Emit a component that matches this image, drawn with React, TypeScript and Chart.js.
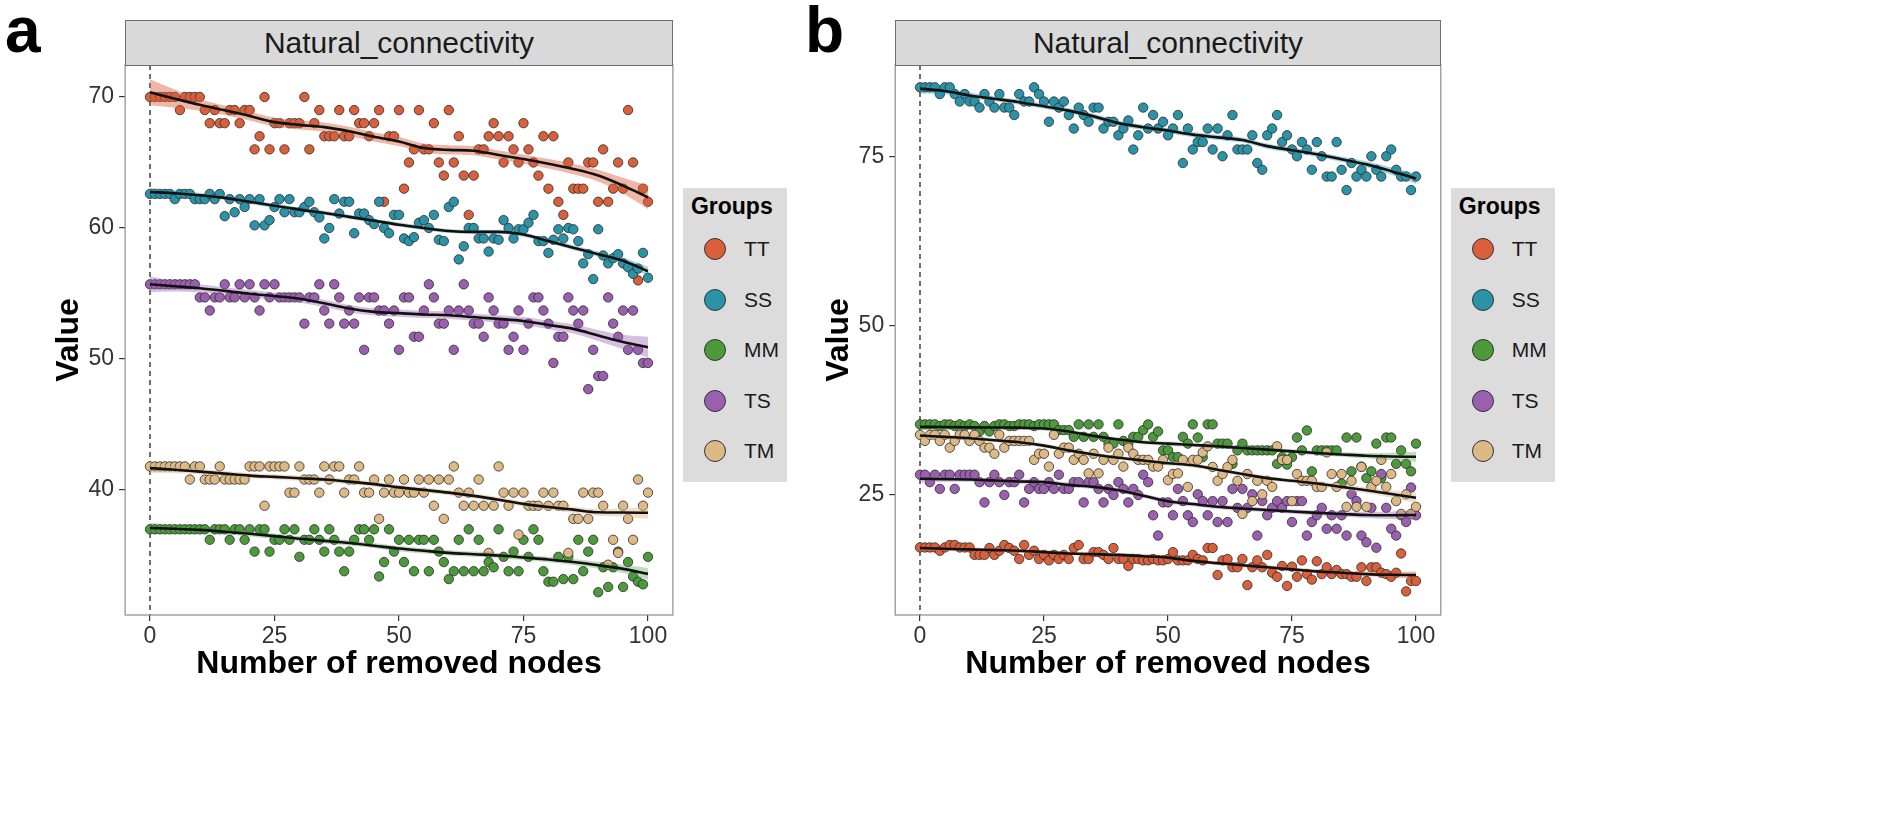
import React, { useEffect, useRef } from "react";
import { Chart, registerables } from "chart.js";
Chart.register(...registerables);

const FONT = '"Liberation Sans", Arial, Helvetica, sans-serif';

const nodesRemoved = [
  0, 1, 2, 3, 4, 5, 6, 7, 8, 9, 10, 11, 12, 13, 14, 15, 16, 17, 18, 19,
  20, 21, 22, 23, 24, 25, 26, 27, 28, 29, 30, 31, 32, 33, 34, 35, 36, 37, 38, 39,
  40, 41, 42, 43, 44, 45, 46, 47, 48, 49, 50, 51, 52, 53, 54, 55, 56, 57, 58, 59,
  60, 61, 62, 63, 64, 65, 66, 67, 68, 69, 70, 71, 72, 73, 74, 75, 76, 77, 78, 79,
  80, 81, 82, 83, 84, 85, 86, 87, 88, 89, 90, 91, 92, 93, 94, 95, 96, 97, 98, 99, 100,
];
const fitNodes = [0, 5, 10, 15, 20, 25, 30, 35, 40, 45, 50, 55, 60, 65, 70, 75, 80, 85, 90, 95, 100];

const groups = ["TT", "SS", "MM", "TS", "TM"];
const groupColors = ["#D9603B", "#2A93A8", "#4C9A3C", "#9A60AF", "#DDB985"];
const bandColors = [
  "rgba(217,96,59,0.45)",
  "rgba(42,147,168,0.40)",
  "rgba(76,154,60,0.35)",
  "rgba(154,96,175,0.40)",
  "rgba(221,185,133,0.45)",
];

const xTicks = [0, 25, 50, 75, 100];
const aYTicks = [40, 50, 60, 70];
const bYTicks = [25, 50, 75];

// ---------- Panel a ----------
const aTT = [
  70, 70, 70, 70, 70, 70, 69, 70, 70, 70,
  70, 69, 68, 69, 68, 68, 69, 69, 68, 69,
  69, 66, 67, 70, 66, 68, 68, 66, 68, 68,
  68, 70, 66, 68, 69, 67, 67, 67, 69, 67,
  67, 69, 68, 68, 67, 68, 69, 62, 67, 67,
  69, 63, 65, 66, 69, 66, 66, 68, 65, 64,
  69, 65, 67, 64, 61, 64, 66, 66, 67, 68,
  67, 65, 67, 66, 65, 68, 66, 65, 64, 67,
  63, 67, 62, 61, 65, 63, 63, 63, 65, 65,
  62, 66, 62, 63, 65, 63, 69, 65, 56, 63,
  62,
];
const aSS = [
  62.6, 62.6, 62.6, 62.6, 62.6, 62.2, 62.6, 62.6, 62.6, 62.2,
  62.2, 62.2, 62.6, 62.2, 62.6, 60.9, 62.2, 61.2, 62.2, 61.6,
  62.2, 60.2, 62.2, 60.2, 60.6, 61.6, 62.2, 61.2, 62.2, 61.2,
  61.2, 61.6, 62.0, 61.2, 60.8, 59.2, 60.0, 62.2, 61.1, 62.0,
  62.0, 59.6, 61.1, 61.1, 60.6, 60.3, 62.0, 60.0, 59.6, 61.0,
  61.0, 59.2, 59.0, 59.3, 60.4, 60.6, 60.0, 61.0, 59.1, 59.0,
  61.6, 62.0, 57.6, 58.6, 60.0, 60.0, 59.2, 59.2, 58.2, 59.2,
  59.1, 60.6, 60.0, 59.2, 59.9, 59.9, 60.4, 61.0, 59.0, 59.0,
  58.1, 59.1, 59.9, 59.2, 60.0, 59.9, 59.0, 57.3, 58.0, 56.1,
  59.9, 57.9, 57.3, 57.7, 58.0, 57.3, 57.0, 56.5, 56.9, 58.1,
  56.2,
];
const aMM = [
  37.0, 37.0, 37.0, 37.0, 37.0, 37.0, 37.0, 37.0, 37.0, 37.0,
  37.0, 37.0, 36.2, 37.0, 37.0, 37.0, 36.2, 37.0, 37.0, 36.2,
  37.0, 35.3, 37.0, 37.0, 35.3, 36.2, 36.2, 37.0, 36.2, 37.0,
  34.9, 36.2, 36.2, 37.0, 36.2, 35.3, 37.0, 36.2, 35.3, 33.8,
  35.3, 36.2, 37.0, 37.0, 36.2, 37.0, 33.4, 34.5, 37.0, 35.3,
  36.2, 34.5, 36.2, 33.8, 36.2, 36.2, 33.8, 36.2, 35.3, 34.5,
  33.2, 33.8, 36.2, 33.8, 37.0, 33.8, 36.2, 33.8, 34.5, 34.1,
  37.0, 34.9, 33.8, 35.3, 33.8, 36.2, 34.9, 37.0, 36.2, 33.8,
  33.0, 33.0, 34.9, 33.2, 34.9, 33.2, 36.2, 33.8, 35.3, 36.2,
  32.2, 34.1, 32.6, 34.1, 35.3, 32.6, 34.5, 33.4, 33.0, 32.8,
  34.9,
];
const aTS = [
  55.7, 55.7, 55.7, 55.7, 55.7, 55.7, 55.7, 55.7, 55.7, 55.7,
  54.7, 54.7, 53.7, 54.7, 54.7, 55.7, 54.7, 54.7, 55.7, 54.7,
  55.7, 54.7, 53.7, 55.7, 54.7, 55.7, 54.7, 54.7, 54.7, 54.7,
  54.7, 52.7, 54.7, 54.7, 55.7, 53.7, 52.7, 55.7, 54.7, 52.7,
  53.7, 52.7, 54.7, 50.7, 54.7, 54.7, 53.7, 53.7, 52.7, 53.7,
  50.7, 54.7, 54.7, 51.7, 51.7, 53.7, 55.7, 54.7, 52.7, 52.7,
  53.7, 50.7, 53.7, 55.7, 53.7, 52.7, 52.7, 51.7, 54.7, 53.7,
  52.7, 52.7, 50.7, 51.7, 53.7, 50.7, 52.7, 54.7, 54.7, 53.7,
  52.7, 49.7, 51.7, 51.7, 54.7, 53.7, 52.7, 53.7, 47.7, 50.7,
  48.7, 48.7, 54.7, 52.7, 51.7, 53.7, 50.7, 53.7, 50.7, 49.7,
  49.7,
];
const aTM = [
  41.8, 41.8, 41.8, 41.8, 41.8, 41.8, 41.8, 41.8, 40.8, 41.8,
  41.8, 40.8, 40.8, 40.8, 41.8, 40.8, 40.8, 40.8, 40.8, 40.8,
  41.8, 41.8, 41.8, 38.8, 41.8, 41.8, 41.8, 41.8, 39.8, 39.8,
  41.8, 40.8, 40.8, 40.8, 39.8, 41.8, 40.8, 41.8, 41.8, 39.8,
  40.8, 40.8, 41.8, 39.8, 39.8, 40.8, 37.8, 39.8, 40.8, 39.8,
  39.8, 40.8, 39.8, 39.8, 40.8, 39.8, 40.8, 38.8, 40.8, 37.8,
  40.8, 41.8, 39.8, 38.8, 39.8, 38.8, 40.8, 38.8, 35.2, 38.8,
  41.8, 39.8, 38.8, 39.8, 36.6, 39.8, 38.8, 38.8, 38.8, 39.8,
  38.8, 39.8, 38.8, 38.8, 35.2, 37.8, 37.8, 39.8, 37.8, 39.8,
  39.8, 38.8, 34.3, 36.2, 35.2, 38.8, 37.8, 36.2, 40.8, 38.8,
  39.8,
];

const aFitTT = [70.36, 69.87, 69.4, 68.98, 68.55, 68.08, 67.87, 67.7, 67.38, 66.96, 66.6, 66.1, 65.96, 65.9, 65.57, 65.26, 64.9, 64.5, 64.0, 63.23, 62.34];
const aFitSS = [62.75, 62.65, 62.5, 62.3, 62.0, 61.7, 61.4, 61.15, 60.85, 60.55, 60.25, 60.0, 59.77, 59.7, 59.7, 59.5, 59.0, 58.5, 58.0, 57.5, 56.7];
const aFitMM = [37.1, 37.04, 36.96, 36.82, 36.66, 36.48, 36.28, 36.12, 35.96, 35.75, 35.53, 35.36, 35.2, 35.1, 35.0, 34.85, 34.7, 34.5, 34.26, 33.98, 33.6];
const aFitTS = [55.7, 55.55, 55.4, 55.2, 54.98, 54.8, 54.6, 54.25, 53.85, 53.6, 53.5, 53.4, 53.34, 53.2, 53.06, 52.9, 52.6, 52.3, 51.8, 51.3, 50.9];
const aFitTM = [41.67, 41.55, 41.4, 41.25, 41.1, 41.0, 40.9, 40.8, 40.64, 40.45, 40.2, 40.0, 39.8, 39.55, 39.26, 38.94, 38.7, 38.5, 38.3, 38.28, 38.26];

const aSeTT = [1.0, 0.7, 0.45, 0.36, 0.35, 0.35, 0.35, 0.35, 0.35, 0.35, 0.35, 0.35, 0.35, 0.35, 0.35, 0.35, 0.36, 0.4, 0.45, 0.6, 0.9];
const aSeSS = [0.3, 0.22, 0.18, 0.16, 0.16, 0.16, 0.16, 0.16, 0.16, 0.16, 0.16, 0.16, 0.16, 0.16, 0.16, 0.16, 0.17, 0.18, 0.2, 0.25, 0.35];
const aSeMM = [0.4, 0.28, 0.22, 0.2, 0.2, 0.2, 0.2, 0.2, 0.2, 0.2, 0.2, 0.2, 0.2, 0.2, 0.2, 0.2, 0.21, 0.23, 0.26, 0.32, 0.45];
const aSeTS = [0.6, 0.4, 0.3, 0.28, 0.28, 0.28, 0.28, 0.28, 0.28, 0.28, 0.28, 0.28, 0.28, 0.28, 0.28, 0.3, 0.32, 0.35, 0.42, 0.55, 0.8];
const aSeTM = [0.4, 0.28, 0.22, 0.2, 0.2, 0.2, 0.2, 0.2, 0.2, 0.2, 0.2, 0.2, 0.2, 0.2, 0.2, 0.2, 0.21, 0.23, 0.26, 0.32, 0.45];

// ---------- Panel b ----------
const bTT = [
  17.24, 17.24, 17.24, 17.24, 16.75, 17.24, 17.6, 17.6, 17.24, 17.24,
  17.24, 16.14, 16.14, 16.14, 17.16, 16.14, 16.75, 17.6, 17.16, 16.75,
  15.53, 17.6, 16.14, 16.75, 15.53, 16.14, 15.33, 16.14, 15.53, 16.14,
  15.53, 17.16, 17.6, 15.53, 15.53, 16.55, 16.55, 16.14, 15.53, 17.16,
  15.53, 15.53, 14.5, 15.53, 15.53, 15.33, 15.33, 15.53, 15.33, 15.33,
  15.53, 16.55, 15.33, 15.33, 15.33, 16.14, 15.53, 15.33, 17.16, 17.16,
  13.17, 15.33, 15.53, 14.31, 14.31, 15.53, 11.67, 14.31, 15.33, 14.31,
  16.14, 13.5, 12.9, 14.5, 11.55, 14.4, 12.9, 15.33, 13.3, 12.48,
  15.2, 13.3, 14.31, 13.3, 13.9, 13.3, 13.3, 12.9, 12.9, 14.31,
  12.28, 14.31, 14.31, 13.5, 13.3, 12.9, 13.5, 16.35, 10.74, 12.28,
  12.28,
];
const bSS = [
  85.3, 85.3, 85.3, 85.3, 84.3, 85.3, 85.3, 84.3, 83.2, 84.3,
  83.2, 83.2, 82.3, 84.3, 83.2, 82.3, 84.3, 82.3, 82.3, 81.2,
  84.3, 83.2, 83.2, 85.3, 84.3, 83.2, 80.2, 83.2, 82.3, 83.2,
  81.2, 79.2, 82.3, 81.2, 80.2, 82.3, 82.3, 79.2, 80.2, 80.2,
  78.2, 79.2, 80.4, 76.1, 78.2, 82.3, 79.2, 81.2, 79.2, 80.2,
  78.2, 79.2, 81.2, 74.1, 79.2, 76.1, 77.2, 77.2, 79.2, 76.1,
  79.2, 75.1, 78.2, 81.2, 76.1, 76.1, 76.1, 78.2, 74.1, 73.1,
  78.2, 79.2, 81.2, 77.2, 78.2, 76.1, 75.1, 77.2, 76.1, 73.1,
  77.2, 75.1, 72.1, 72.1, 77.2, 73.1, 70.1, 74.1, 72.1, 73.1,
  72.1, 75.1, 73.1, 72.1, 75.1, 76.1, 73.1, 72.1, 72.1, 70.1,
  72.1,
];
const bMM = [
  35.45, 35.45, 35.45, 35.45, 35.2, 35.45, 35.45, 35.2, 35.45, 35.2,
  35.45, 35.2, 34.4, 35.2, 34.4, 35.2, 35.45, 35.45, 35.2, 35.2,
  35.45, 35.45, 35.45, 35.2, 35.45, 35.45, 35.45, 35.45, 34.6, 34.6,
  34.6, 33.6, 35.45, 33.6, 35.45, 33.6, 35.45, 33.6, 32.6, 32.6,
  35.45, 33.0, 32.6, 33.6, 33.6, 34.6, 35.45, 33.6, 34.4, 31.6,
  31.6, 30.6, 30.6, 33.6, 32.6, 35.45, 33.5, 30.6, 35.45, 35.45,
  32.6, 32.6, 32.6, 29.6, 31.6, 32.6, 31.6, 31.6, 31.6, 31.6,
  31.6, 31.6, 29.6, 30.6, 29.5, 30.6, 33.5, 31.6, 34.55, 28.5,
  31.6, 31.6, 31.6, 31.6, 31.6, 26.7, 33.5, 28.5, 33.5, 29.2,
  27.5, 28.5, 32.6, 27.5, 33.5, 33.5, 29.6, 31.6, 29.6, 28.5,
  32.6,
];
const bTS = [
  28.0, 28.0, 26.9, 28.0, 25.9, 28.0, 28.0, 25.9, 28.0, 28.0,
  28.0, 28.0, 26.9, 23.9, 26.9, 28.0, 26.9, 25.0, 26.9, 26.9,
  28.0, 23.9, 25.9, 26.9, 25.9, 25.9, 26.9, 25.9, 28.0, 25.9,
  25.9, 26.9, 26.9, 23.9, 26.9, 26.9, 25.9, 23.9, 25.9, 25.0,
  26.9, 25.9, 23.9, 25.9, 25.0, 28.0, 26.9, 22.0, 19.0, 23.9,
  23.9, 22.0, 25.9, 24.1, 22.0, 21.0, 25.1, 24.1, 22.0, 24.1,
  21.0, 24.1, 21.0, 25.9, 23.1, 25.9, 23.1, 25.1, 19.0, 24.1,
  22.0, 23.1, 24.1, 23.1, 24.1, 21.0, 24.1, 24.1, 19.0, 21.0,
  22.0, 23.1, 20.0, 22.0, 20.0, 22.0, 19.0, 25.1, 24.1, 19.0,
  18.0, 23.1, 17.2, 28.1, 23.1, 20.0, 19.0, 22.0, 21.0, 26.1,
  22.0,
];
const bTM = [
  33.9, 33.0, 33.9, 33.9, 33.0, 33.9, 32.0, 33.0, 33.9, 33.9,
  33.0, 33.9, 33.0, 32.0, 32.0, 31.1, 33.9, 32.0, 33.0, 33.0,
  33.0, 33.0, 33.0, 30.2, 31.1, 31.1, 29.2, 33.9, 31.1, 32.0,
  32.0, 30.2, 31.1, 30.2, 28.2, 31.1, 28.2, 30.2, 32.0, 30.2,
  31.1, 29.2, 32.0, 31.1, 30.2, 30.2, 30.2, 29.2, 29.2, 30.2,
  27.2, 28.1, 28.2, 30.2, 26.2, 30.2, 30.2, 31.3, 32.2, 29.15,
  27.1, 28.1, 29.15, 30.2, 27.1, 22.2, 28.1, 24.1, 27.1, 25.1,
  27.1, 26.2, 32.2, 30.2, 30.2, 24.1, 28.1, 27.1, 27.1, 27.1,
  26.2, 26.2, 31.3, 28.1, 26.2, 28.1, 23.25, 27.1, 23.25, 29.15,
  23.25, 26.2, 27.1, 30.2, 26.2, 28.1, 24.1, 22.2, 25.1, 22.2,
  23.25,
];

const bFitTT = [17.16, 17.05, 16.95, 16.85, 16.75, 16.55, 16.35, 16.25, 16.14, 15.95, 15.73, 15.25, 14.92, 14.6, 14.31, 14.0, 13.7, 13.5, 13.3, 13.2, 13.17];
const bFitSS = [85.1, 84.76, 84.1, 83.6, 83.1, 82.5, 81.85, 81.0, 80.0, 79.4, 78.9, 78.3, 77.9, 77.5, 76.6, 76.0, 75.4, 74.65, 73.9, 72.9, 71.8];
const bFitMM = [35.1, 35.05, 35.0, 34.98, 34.96, 34.84, 34.4, 33.74, 33.2, 32.8, 32.6, 32.4, 32.2, 31.95, 31.71, 31.45, 31.2, 31.0, 30.8, 30.7, 30.65];
const bFitTS = [27.4, 27.35, 27.3, 27.15, 27.0, 26.9, 26.5, 26.2, 25.7, 24.9, 24.07, 23.66, 23.26, 23.0, 22.77, 22.55, 22.36, 22.2, 22.03, 22.0, 22.03];
const bFitTM = [33.8, 33.6, 33.4, 33.1, 32.8, 32.3, 31.6, 31.0, 30.5, 30.1, 29.7, 29.4, 28.74, 28.1, 27.5, 27.1, 26.7, 26.2, 25.7, 25.15, 24.6];

const bSeTT = [0.45, 0.35, 0.3, 0.28, 0.28, 0.28, 0.28, 0.28, 0.28, 0.28, 0.28, 0.28, 0.28, 0.28, 0.28, 0.28, 0.28, 0.3, 0.33, 0.4, 0.5];
const bSeSS = [0.7, 0.5, 0.42, 0.38, 0.38, 0.38, 0.38, 0.38, 0.38, 0.38, 0.38, 0.38, 0.38, 0.38, 0.38, 0.38, 0.38, 0.4, 0.45, 0.55, 0.8];
const bSeMM = [0.5, 0.38, 0.32, 0.3, 0.3, 0.3, 0.3, 0.3, 0.3, 0.3, 0.3, 0.3, 0.3, 0.3, 0.3, 0.3, 0.32, 0.36, 0.42, 0.55, 0.75];
const bSeTS = [0.55, 0.4, 0.34, 0.32, 0.32, 0.32, 0.32, 0.32, 0.32, 0.32, 0.32, 0.32, 0.32, 0.32, 0.32, 0.32, 0.34, 0.38, 0.45, 0.55, 0.75];
const bSeTM = [0.55, 0.4, 0.34, 0.32, 0.32, 0.32, 0.32, 0.32, 0.32, 0.32, 0.32, 0.32, 0.32, 0.32, 0.32, 0.32, 0.34, 0.38, 0.45, 0.55, 0.75];

const panels = [
  {
    letter: "a",
    canvasLeft: 0,
    padLeft: 50.1,
    padRight: 7.1,
    yMin: 30.46,
    yMax: 72.44,
    yTicks: aYTicks,
    points: [aTT, aSS, aMM, aTS, aTM],
    fits: [aFitTT, aFitSS, aFitMM, aFitTS, aFitTM],
    ses: [aSeTT, aSeSS, aSeMM, aSeTS, aSeTM],
  },
  {
    letter: "b",
    canvasLeft: 770,
    padLeft: 50.2,
    padRight: 9.2,
    yMin: 7.25,
    yMax: 88.6,
    yTicks: bYTicks,
    points: [bTT, bSS, bMM, bTS, bTM],
    fits: [bFitTT, bFitSS, bFitMM, bFitTS, bFitTM],
    ses: [bSeTT, bSeSS, bSeMM, bSeTS, bSeTM],
  },
];

const vlineX = 0;

const decorPlugin = {
  id: "decor",
  beforeDatasetsDraw(chart: any) {
    const { ctx, chartArea, scales } = chart;
    const px = scales.x.getPixelForValue(vlineX);
    ctx.save();
    ctx.strokeStyle = "#333333";
    ctx.lineWidth = 1.4;
    ctx.setLineDash([5, 4]);
    ctx.beginPath();
    ctx.moveTo(px, chartArea.top);
    ctx.lineTo(px, chartArea.bottom);
    ctx.stroke();
    ctx.restore();
  },
  afterDraw(chart: any) {
    const { ctx, chartArea } = chart;
    ctx.save();
    ctx.strokeStyle = "#8c8c8c";
    ctx.lineWidth = 1.2;
    ctx.strokeRect(chartArea.left, chartArea.top, chartArea.right - chartArea.left, chartArea.bottom - chartArea.top);
    ctx.restore();
  },
};

function buildDatasets(p: any) {
  const ds: any[] = [];
  groups.forEach((g, i) => {
    ds.push({
      label: g,
      data: nodesRemoved.map((x, j) => ({ x, y: p.points[i][j] })),
      showLine: false,
      pointRadius: 4.7,
      pointBackgroundColor: groupColors[i],
      pointBorderColor: "#2a2a2a",
      pointBorderWidth: 0.8,
      order: 10 - i,
    });
  });
  groups.forEach((g, i) => {
    ds.push({
      label: g + " upper",
      data: fitNodes.map((x, j) => ({ x, y: p.fits[i][j] + p.ses[i][j] })),
      showLine: true,
      borderWidth: 0,
      borderColor: "rgba(0,0,0,0)",
      pointRadius: 0,
      fill: false,
      cubicInterpolationMode: "monotone",
      order: 1,
    });
    ds.push({
      label: g + " lower",
      data: fitNodes.map((x, j) => ({ x, y: p.fits[i][j] - p.ses[i][j] })),
      showLine: true,
      borderWidth: 0,
      borderColor: "rgba(0,0,0,0)",
      backgroundColor: bandColors[i],
      pointRadius: 0,
      fill: "-1",
      cubicInterpolationMode: "monotone",
      order: 1,
    });
  });
  groups.forEach((g, i) => {
    ds.push({
      label: g + " fit",
      data: fitNodes.map((x, j) => ({ x, y: p.fits[i][j] })),
      showLine: true,
      borderColor: "#111111",
      borderWidth: 2.6,
      pointRadius: 0,
      fill: false,
      cubicInterpolationMode: "monotone",
      order: 0,
    });
  });
  return ds;
}

function Panel({ p }: { p: any }) {
  const ref = useRef<HTMLCanvasElement | null>(null);
  useEffect(() => {
    if (!ref.current) return;
    const chart = new Chart(ref.current, {
      type: "scatter",
      data: { datasets: buildDatasets(p) },
      options: {
        animation: false,
        responsive: false,
        events: [],
        layout: { padding: { left: p.padLeft, right: p.padRight, top: 65, bottom: 156 } },
        plugins: { legend: { display: false }, tooltip: { enabled: false } },
        scales: {
          x: {
            type: "linear",
            min: -5,
            max: 105,
            afterBuildTicks: (s: any) => {
              s.ticks = xTicks.map((v) => ({ value: v }));
            },
            afterFit: (s: any) => {
              s.height = 68;
            },
            ticks: { font: { family: FONT, size: 23 }, color: "#333333", padding: 2, maxRotation: 0 },
            grid: { drawOnChartArea: false, drawTicks: true, tickLength: 6, color: "#333333", lineWidth: 1.2 },
            border: { display: false },
            title: {
              display: true,
              text: "Number of removed nodes",
              font: { family: FONT, size: 32, weight: "bold" },
              color: "#000000",
              padding: 0,
            },
          },
          y: {
            type: "linear",
            min: p.yMin,
            max: p.yMax,
            afterBuildTicks: (s: any) => {
              s.ticks = p.yTicks.map((v: number) => ({ value: v }));
            },
            afterFit: (s: any) => {
              s.width = 75;
            },
            ticks: { font: { family: FONT, size: 23 }, color: "#333333", padding: 5 },
            grid: { drawOnChartArea: false, drawTicks: true, tickLength: 6, color: "#333333", lineWidth: 1.2 },
            border: { display: false },
            title: {
              display: true,
              text: "Value",
              font: { family: FONT, size: 32, weight: "bold" },
              color: "#000000",
              padding: 0,
            },
          },
        },
      } as any,
      plugins: [decorPlugin],
    });
    return () => chart.destroy();
  }, [p]);

  const plotLeft = p.canvasLeft + p.padLeft + 75;
  const plotRight = p.canvasLeft + 680 - p.padRight;
  const legendLeft = plotRight + 10;

  return (
    <>
      <canvas
        ref={ref}
        width={680}
        height={839}
        style={{ position: "absolute", left: p.canvasLeft, top: 0, width: 680, height: 839 }}
      />
      <div
        style={{
          position: "absolute",
          left: p.letter === "a" ? 5 : 805,
          top: -2,
          fontFamily: FONT,
          fontWeight: "bold",
          fontSize: 64,
          lineHeight: "64px",
          color: "#000",
        }}
      >
        {p.letter}
      </div>
      <div
        style={{
          position: "absolute",
          left: plotLeft,
          top: 20,
          width: plotRight - plotLeft,
          height: 46,
          boxSizing: "border-box",
          background: "#d9d9d9",
          border: "1px solid #6e6e6e",
          fontFamily: FONT,
          fontSize: 30,
          lineHeight: "44px",
          textAlign: "center",
          color: "#1a1a1a",
        }}
      >
        Natural_connectivity
      </div>
      <div
        style={{
          position: "absolute",
          left: legendLeft,
          top: 188,
          width: 104,
          height: 294,
          background: "#dcdcdc",
          fontFamily: FONT,
          color: "#000",
        }}
      >
        <div style={{ position: "absolute", left: 8, top: 4, fontSize: 23, fontWeight: "bold", lineHeight: "28px" }}>
          Groups
        </div>
        {groups.map((g, i) => (
          <React.Fragment key={g}>
            <div
              style={{
                position: "absolute",
                left: 32 - 11,
                top: 61 + i * 50.5 - 11,
                width: 22,
                height: 22,
                boxSizing: "border-box",
                borderRadius: "50%",
                background: groupColors[i],
                border: "1px solid #333",
              }}
            />
            <div
              style={{
                position: "absolute",
                left: 61,
                top: 61 + i * 50.5 - 13,
                fontSize: 21,
                lineHeight: "26px",
                color: "#1a1a1a",
              }}
            >
              {g}
            </div>
          </React.Fragment>
        ))}
      </div>
    </>
  );
}

export default function App() {
  return (
    <div style={{ position: "absolute", left: 0, top: 0, width: 1902, height: 839, background: "#ffffff", overflow: "hidden" }}>
      {panels.map((p) => (
        <Panel key={p.letter} p={p} />
      ))}
    </div>
  );
}
